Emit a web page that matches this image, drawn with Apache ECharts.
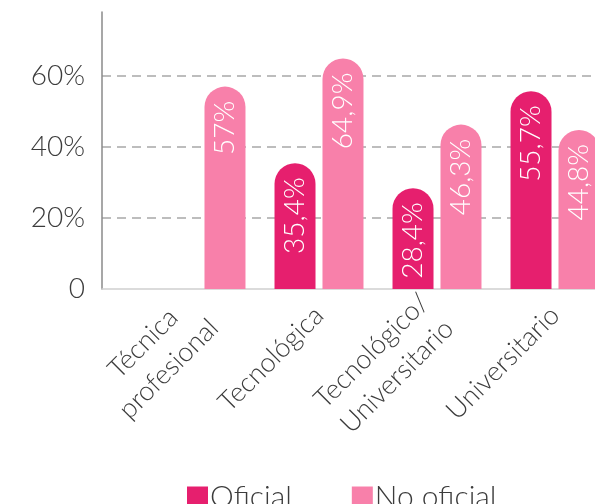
<!DOCTYPE html>
<html>
<head>
<meta charset="utf-8">
<script src="https://cdn.jsdelivr.net/npm/echarts@6/dist/echarts.min.js"></script>
<style>html,body{margin:0;padding:0;background:#fff}#c{width:595px;height:504px}</style>
</head>
<body>
<div id="c"></div>
<script>
var categories = ['Técnica\nprofesional', 'Tecnológica', 'Tecnológico/\nUniversitario', 'Universitario'];
var oficial = [null, 35.4, 28.4, 55.7];
var noOficial = [57, 64.9, 46.3, 44.8];
var seriesNames = ['Oficial', 'No oficial'];
var yTicks = [0, 20, 40, 60];

var FONT = 'Lato, "Open Sans", sans-serif';
var TXT = '#3c3c3c';
function fmt(v) { return String(v).replace('.', ',') + '%'; }

var chart = echarts.init(document.getElementById('c'));
var labelCfg = {
  show: true, position: 'insideTop', distance: 14, rotate: 90,
  align: 'right', verticalAlign: 'middle',
  color: '#fff', fontSize: 28, fontFamily: FONT, fontWeight: 300,
  formatter: function (p) { return fmt(p.value); }
};
chart.setOption({
  animation: false,
  grid: [
    { left: 102, right: 0, top: 12, bottom: 215, outerBoundsMode: 'none', containLabel: false },
    { left: 142, width: 472, top: 12, bottom: 215, outerBoundsMode: 'none', containLabel: false }
  ],
  xAxis: [
    { gridIndex: 0, type: 'value', min: 0, max: 1,
      axisLine: { show: true, lineStyle: { color: '#cfcfcf', width: 1.5 } },
      axisTick: { show: false }, axisLabel: { show: false }, splitLine: { show: false } },
    { gridIndex: 1, type: 'category', data: categories,
      axisLine: { show: false }, axisTick: { show: false },
      axisLabel: { rotate: 45, margin: 22, interval: 0, hideOverlap: false,
        formatter: function (v) { return v.split('\n').map(function (s) { return '{a|' + s + '}'; }).join('\n'); },
        rich: { a: { align: 'center', fontSize: 27, lineHeight: 36, fontFamily: FONT, fontWeight: 300, color: TXT } } } }
  ],
  yAxis: [
    { gridIndex: 0, type: 'value', min: yTicks[0], max: 78, interval: 20,
      axisLine: { show: true, lineStyle: { color: '#8a8a8a', width: 1.5 } },
      axisTick: { show: false },
      axisLabel: { showMaxLabel: false, margin: 17, fontSize: 28, fontFamily: FONT, fontWeight: 300, color: TXT,
        formatter: function (v) { return v === 0 ? '0' : v + '%'; } },
      splitLine: { show: true, showMinLine: false, showMaxLine: false,
        lineStyle: { color: '#a8a8a8', type: [9, 6], width: 1.5 } } },
    { gridIndex: 1, type: 'value', min: yTicks[0], max: 78, show: false, splitLine: { show: false } }
  ],
  legend: {
    data: seriesNames, left: 182, top: 477, icon: 'rect', itemWidth: 21, itemHeight: 21, itemGap: 60,
    textStyle: { fontSize: 30, fontFamily: FONT, fontWeight: 300, color: TXT, padding: [0, 0, 0, -3] }
  },
  series: [
    { name: seriesNames[0], type: 'bar', xAxisIndex: 1, yAxisIndex: 1, data: oficial,
      barWidth: 41, barGap: '17%', itemStyle: { color: '#e61f6e', borderRadius: [20.5, 20.5, 0, 0] }, label: labelCfg },
    { name: seriesNames[1], type: 'bar', xAxisIndex: 1, yAxisIndex: 1, data: noOficial,
      barWidth: 41, barGap: '17%', itemStyle: { color: '#f880aa', borderRadius: [20.5, 20.5, 0, 0] }, label: labelCfg }
  ]
});
</script>
</body>
</html>
